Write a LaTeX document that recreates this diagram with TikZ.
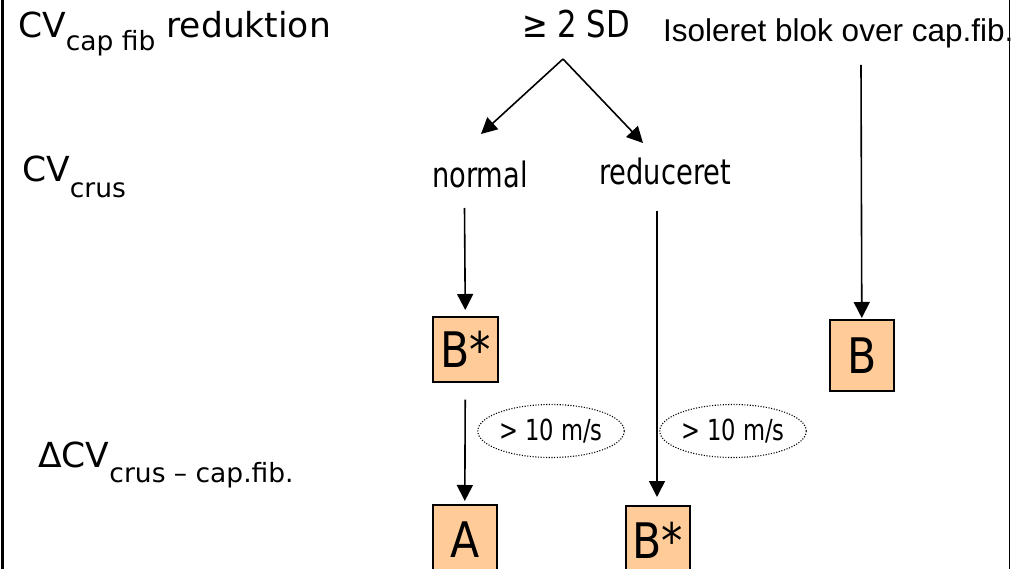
\documentclass[tikz,border=0pt]{standalone}
\usepackage{fontspec}
\setmainfont{DejaVu Sans}
\newfontfamily\tah{DejaVu Sans}[FakeStretch=0.78]
\newfontfamily\tahs{DejaVu Sans}[FakeStretch=0.83]
\newfontfamily\tahb{DejaVu Sans}[FakeStretch=0.87]
\newfontfamily\arialf{Liberation Sans}
\usetikzlibrary{arrows.meta,shapes.geometric}
\definecolor{peach}{HTML}{FFCC99}
\newcommand{\subf}{\fontsize{26.5}{30}\selectfont}
\begin{document}
\begin{tikzpicture}[x=1pt,y=-1pt,
  lbl/.style={anchor=base west, inner sep=0pt, font=\fontsize{34.5}{40}\selectfont},
  tlbl/.style={anchor=base west, inner sep=0pt, font=\tah\fontsize{35}{40}\selectfont},
  res/.style={draw=black, line width=1.6pt, fill=peach, anchor=north west, inner sep=0pt,
              font=\tahb\fontsize{49}{50}\selectfont},
  arr/.style={line width=1.6pt, -{Triangle[length=16pt,width=16pt]}},
  cond/.style={ellipse, draw=black, line width=1.1pt, dash pattern=on 1.1pt off 1.6pt, inner sep=0pt,
               minimum width=126pt, minimum height=53pt, font=\tah\fontsize{29}{30}\selectfont}
]
\useasboundingbox (0,0) rectangle (1012,569);
\clip (0,0) rectangle (1012,569);
\fill[white] (0,0) rectangle (1012,569);
% frame sides
\draw[line width=3pt] (2.5,-5) -- (2.5,575);
\draw[line width=1.3pt] (1009.5,-5) -- (1009.5,575);
% row labels
\node[lbl] (cvcap) at (18,38) {CV\raisebox{-13pt}{\subf cap fib} reduktion};
\node[lbl] (cvcrus) at (22,182) {CV\raisebox{-16pt}{\subf crus}};
\node[lbl] (dcv) at (38,467) {ΔCV\raisebox{-15pt}{\subf crus – cap.fib.}};
% top texts
\node[anchor=base west, inner sep=0pt, font=\tahs\fontsize{37}{40}\selectfont] (sd) at (522,38) {≥ 2 SD};
\node[anchor=base west, inner sep=0pt, font=\arialf\fontsize{31.5}{36}\selectfont] (iso) at (663,42) {Isoleret blok over cap.fib.};
\node[tlbl] (normal) at (432,188) {normal};
\node[tlbl] (red) at (599,185) {reduceret};
% result boxes
\node[res, minimum width=65pt, minimum height=65pt] (bs1) at (432,316) {B*};
\node[res, minimum width=64pt, minimum height=71pt] (b) at (829,319) {B};
\node[res, minimum width=64pt, minimum height=70pt] (a) at (432,504) {A};
\node[res, minimum width=64pt, minimum height=70pt] (bs2) at (625,505) {B*};
% conditions
\node[cond] (e1) at (551,431) {> 10 m/s};
\node[cond] (e2) at (733,431) {> 10 m/s};
% connectors
\coordinate (apex) at (563,59);
\coordinate (tipN) at (481,134);
\coordinate (tipR) at (643,143);
\coordinate (n1) at (464.5,208);
\coordinate (r1) at (657,211);
\coordinate (i1) at (861,65);
\draw[arr] (apex) -- (tipN);
\draw[arr] (apex) -- (tipR);
\draw[arr, shorten >=6pt] (n1) -- (bs1.north);
\draw[arr, shorten <=17pt, shorten >=3pt] (bs1.south) -- (a.north);
\draw[arr, shorten >=8pt] (r1) -- (r1 |- bs2.north);
\draw[arr, shorten >=1pt] (i1) -- (b.north);
\end{tikzpicture}
\end{document}
